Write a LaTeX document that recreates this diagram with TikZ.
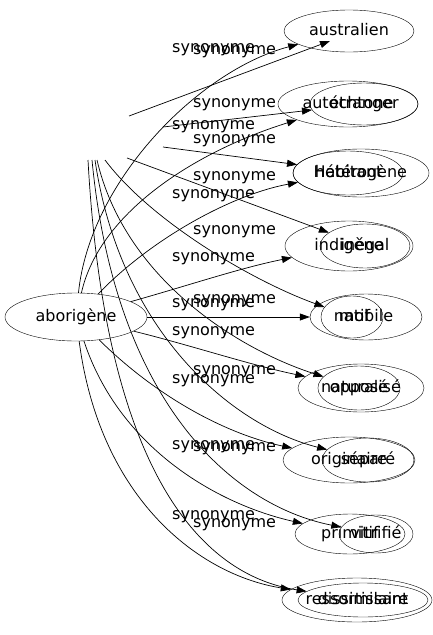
\documentclass[tikz,border=0pt]{standalone}
\usepackage{fontspec}
\setmainfont{DejaVu Sans}
\usetikzlibrary{shapes.geometric,arrows.meta}
\tikzset{
word/.style={draw,ellipse,inner sep=0pt,font=\fontsize{16}{19}\selectfont,text height=12pt,text depth=3.5pt},
sz/.style 2 args={minimum width=#1pt,minimum height=#2pt},
syn/.style={-{Triangle[length=10pt,width=7pt]},line width=0.7pt},
lab/.style={anchor=mid west,inner sep=0pt,font=\fontsize{16}{19}\selectfont}
}
\begin{document}
\begin{tikzpicture}[x=1pt,y=-1pt]
\useasboundingbox (0,0) rectangle (433,635);
\node[word,sz={142}{48}] (abo) at (76,317) {aborigène};
\node[word,sz={130}{42}] (australien) at (349,31) {australien};
\node[word,sz={140}{46}] (autochtone) at (348,104) {autochtone};
\node[word,sz={108}{42}] (etranger) at (364,104) {étranger};
\node[word,sz={110}{44}] (habitant) at (348,173) {Habitant};
\node[word,sz={136}{48}] (heterogene) at (361,173) {hétérogène};
\node[word,sz={128}{50}] (indigene) at (349,246) {indigène};
\node[word,sz={90}{44}] (inegal) at (365,246) {inégal};
\node[word,sz={62}{42}] (natif) at (352,317) {natif};
\node[word,sz={112}{46}] (mobile) at (366,317) {mobile};
\node[word,sz={126}{48}] (naturalise) at (361,388) {naturalisé};
\node[word,sz={82}{44}] (oppose) at (359,388) {opposé};
\node[word,sz={132}{46}] (originaire) at (349,460) {originaire};
\node[word,sz={92}{44}] (separe) at (368,460) {séparé};
\node[word,sz={110}{40}] (primitif) at (350,534) {primitif};
\node[word,sz={74}{38}] (vitrifie) at (376,534) {vitrifié};
\node[word,sz={150}{44}] (ressortissant) at (357,600) {ressortissant};
\node[word,sz={130}{34}] (dissimilaire) at (363,600) {dissimilaire};
% labels
\foreach \y [count=\i] in {50,127,196,259,305,333,381,447,517}
\node[lab] (la\i) at (172,\y) {synonyme};
\foreach \y [count=\i] in {52,105,141,178,232,301,372,449,525}
\node[lab] (lb\i) at (193,\y) {synonyme};
% from aborigene
\draw[syn] (abo) .. controls (90,180) and (200,70) .. (australien);
\draw[syn] (abo) .. controls (100,210) and (200,150) .. (autochtone);
\draw[syn] (abo) .. controls (150,240) and (230,195) .. (habitant);
\draw[syn] (abo) .. controls (190,285) and (240,268) .. (indigene);
\draw[syn] (abo) -- (mobile);
\draw[syn] (abo) .. controls (190,345) and (250,365) .. (naturalise);
\draw[syn] (abo) .. controls (160,400) and (230,435) .. (originaire);
\draw[syn] (abo) .. controls (120,450) and (220,505) .. (primitif);
\draw[syn] (abo) .. controls (100,500) and (200,575) .. (ressortissant);
% loose ends
\coordinate (s1) at (129,116);
\coordinate (s2) at (163,127);
\coordinate (s3) at (163,147);
\coordinate (s4) at (127,158);
\coordinate (s5) at (105,160);
\coordinate (s6) at (97,160);
\coordinate (s7) at (95,160);
\coordinate (s8) at (92,160);
\coordinate (s9) at (88,160);
\coordinate (t1) at (330,41);
\draw[syn] (s1) -- (t1);
\draw[syn] (s2) -- (etranger);
\draw[syn] (s3) -- (heterogene);
\draw[syn] (s4) -- (inegal);
\draw[syn] (s5) .. controls (150,220) and (250,280) .. (natif);
\draw[syn] (s6) .. controls (125,280) and (240,350) .. (oppose);
\draw[syn] (s7) .. controls (120,330) and (230,425) .. (separe);
\draw[syn] (s8) .. controls (115,400) and (230,505) .. (vitrifie);
\draw[syn] (s9) .. controls (105,470) and (200,575) .. (dissimilaire);
\end{tikzpicture}
\end{document}
